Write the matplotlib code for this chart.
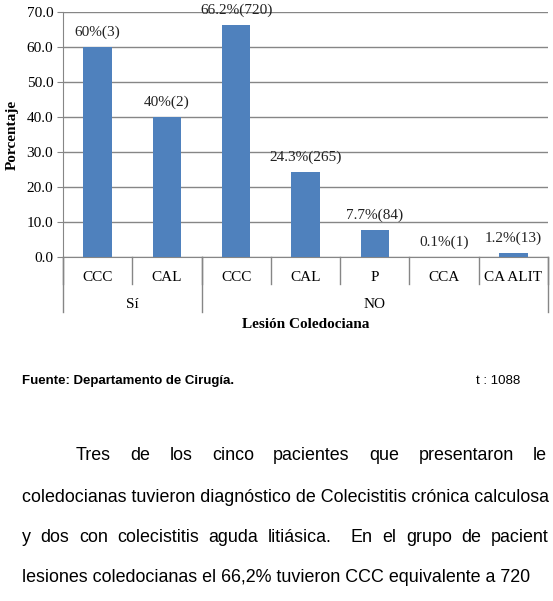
import matplotlib.pyplot as plt
import matplotlib.transforms as mtransforms

# Datos del gráfico
categorias = ['CCC', 'CAL', 'CCC', 'CAL', 'P', 'CCA', 'CA ALIT']
porcentajes = [60, 40, 66.2, 24.3, 7.7, 0.1, 1.2]
etiquetas = ['60%(3)', '40%(2)', '66.2%(720)', '24.3%(265)', '7.7%(84)', '0.1%(1)', '1.2%(13)']
grupos = ['Sí', 'NO']
grupo_tamano = [2, 5]
yticks = [0, 10, 20, 30, 40, 50, 60, 70]

# Texto bajo el gráfico
linea1 = 'Tres de los cinco pacientes que presentaron le'
linea2 = 'coledocianas tuvieron diagnóstico de Colecistitis crónica calculosa'
linea3 = 'y dos con colecistitis aguda litiásica.  En el grupo de pacient'
linea4 = 'lesiones coledocianas el 66,2% tuvieron CCC equivalente a 720'

W, H = 553, 601
fig = plt.figure(figsize=(W / 100, H / 100), dpi=100)
ax = fig.add_axes([63 / W, 1 - 257 / H, 485 / W, 245 / H])

serif = 'Liberation Serif'
sans = 'Liberation Sans'
fsc = 11
gris = '#868686'

x = list(range(len(categorias)))
ax.bar(x, porcentajes, width=0.41, color='#4F81BD', zorder=3)
for xi, v, lab in zip(x, porcentajes, etiquetas):
    ax.annotate(lab, (xi, v), xytext=(0, 10.5), textcoords='offset points',
                ha='center', va='center', fontsize=fsc, family=serif, color='#222222')

ax.set_xlim(-0.5, len(categorias) - 0.5)
ax.set_ylim(0, 70)
ax.set_yticks(yticks)
ax.set_yticklabels(['%.1f' % t for t in yticks], family=serif, fontsize=fsc)
ax.yaxis.grid(True, color=gris, linewidth=1, zorder=0)
ax.tick_params(axis='y', length=4, color=gris, pad=3)
for s in ['top', 'right']:
    ax.spines[s].set_visible(False)
ax.spines['left'].set_color(gris)
ax.spines['bottom'].set_color(gris)

ax.set_xticks(x)
ax.set_xticklabels(categorias, family=serif, fontsize=fsc)
ax.tick_params(axis='x', length=0, pad=10)

ax.set_ylabel('Porcentaje', family=serif, fontsize=fsc, fontweight='bold', labelpad=6)

# Eje de categorías jerárquico
trans = mtransforms.blended_transform_factory(ax.transData, ax.transAxes)
for i in range(len(categorias) + 1):
    ax.plot([i - 0.5, i - 0.5], [0, -27 / 245], color=gris, lw=1,
            transform=trans, clip_on=False)
inicio = -0.5
for g, n in zip(grupos, grupo_tamano):
    ax.plot([inicio, inicio], [0, -55 / 245], color=gris, lw=1, transform=trans, clip_on=False)
    ax.text(inicio + n / 2, -47 / 245, g, transform=trans, ha='center', va='center',
            family=serif, fontsize=fsc)
    inicio += n
ax.plot([inicio, inicio], [0, -55 / 245], color=gris, lw=1, transform=trans, clip_on=False)

fig.text(306 / W, 1 - 324 / H, 'Lesión Coledociana', ha='center', va='center',
         family=serif, fontsize=fsc, fontweight='bold')

# Pie
fig.text(22 / W, 1 - 381 / H, 'Fuente: Departamento de Cirugía.', ha='left', va='center',
         family=sans, fontsize=9.5, fontweight='bold')
fig.text(476 / W, 1 - 381 / H, 't : 1088', ha='left', va='center',
         family=sans, fontsize=9.5)

# Párrafo justificado: la última palabra empieza en x_ult (píxeles)
fs = 12.9
renderer = fig.canvas.get_renderer()


def justificar(linea, y, x0, x_ult):
    palabras = linea.replace('  ', ' \u0000 ').split(' ')
    pesos = []
    limpias = []
    for p in palabras:
        if p == '\u0000':
            pesos[-1] += 1
        else:
            limpias.append(p)
            pesos.append(1)
    pesos = pesos[:-1]
    textos = [fig.text(0, 1 - y / H, p, ha='left', va='center', family=sans, fontsize=fs)
              for p in limpias]
    anchos = [t.get_window_extent(renderer).width for t in textos]
    hueco = (x_ult - x0 - sum(anchos[:-1])) / sum(pesos)
    pos = x0
    for i, t in enumerate(textos):
        t.set_x(pos / W)
        if i < len(pesos):
            pos += anchos[i] + hueco * pesos[i]


justificar(linea1, 456, 76, 533)
fig.text(22 / W, 1 - 498 / H, linea2, ha='left', va='center', family=sans, fontsize=fs)
justificar(linea3, 538, 22, 491)
fig.text(22 / W, 1 - 578 / H, linea4, ha='left', va='center', family=sans, fontsize=fs)

fig.savefig('out.png', dpi=100)
